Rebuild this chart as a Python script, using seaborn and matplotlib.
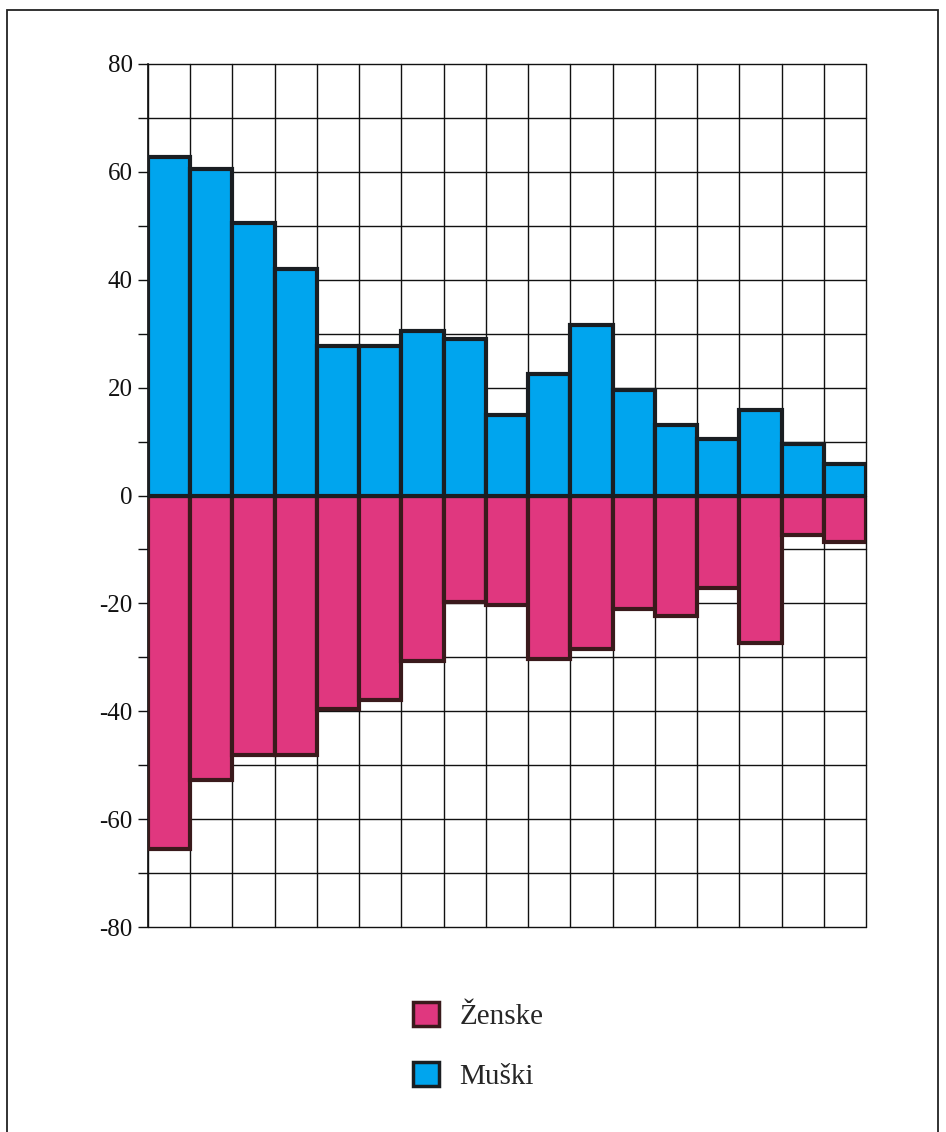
import matplotlib
matplotlib.use("Agg")
import matplotlib.pyplot as plt
import matplotlib.patches as mpatches
from matplotlib.ticker import MultipleLocator
import numpy as np
import pandas as pd
import seaborn as sns

# Age-group index (17 groups, unlabelled on the axis)
groups = [str(i) for i in range(1, 18)]
muski = [62.8, 60.5, 50.5, 42.0, 27.7, 27.7, 30.5, 29.0, 15.0, 22.5, 31.7, 19.5, 13.0, 10.4, 15.8, 9.6, 5.9]
zenske = [-65.6, -52.8, -48.2, -48.1, -39.5, -37.9, -30.7, -19.7, -20.3, -30.3, -28.5, -21.1, -22.4, -17.2, -27.4, -7.3, -8.7]
series_names = ["Ženske", "Muški"]
colors = {"Ženske": "#E0377F", "Muški": "#00A5EE"}
edge_colors = {"Ženske": "#3A1A1C", "Muški": "#1A1E22"}

df = pd.DataFrame({
    "grupa": groups * 2,
    "vrijednost": zenske + muski,
    "spol": ["Ženske"] * len(groups) + ["Muški"] * len(groups),
})

sns.set_theme(style="white")
plt.rcParams["font.family"] = ["Liberation Serif", "DejaVu Serif"]

W, H = 946, 1132
fig = plt.figure(figsize=(W / 100, H / 100), dpi=100)
ax = fig.add_axes([148 / W, 1 - 927 / H, (866 - 148) / W, (927 - 64) / H])

sns.barplot(
    data=df, x="grupa", y="vrijednost", hue="spol", hue_order=series_names,
    order=groups, palette=colors, dodge=False, width=1.0, ax=ax,
    legend=False, errorbar=None, saturation=1,
)
for bar in ax.patches:
    h = bar.get_height()
    key = "Muški" if h > 0 else "Ženske"
    bar.set_edgecolor(edge_colors[key])
    bar.set_linewidth(3.0)
    bar.set_zorder(3)

ax.set_xlim(-0.5, len(groups) - 0.5)
ax.set_ylim(-80, 80)
ax.yaxis.set_major_locator(MultipleLocator(20))
ax.yaxis.set_minor_locator(MultipleLocator(10))

# grid: horizontal every 10, vertical at each group boundary
for yv in np.arange(-80, 81, 10):
    ax.axhline(yv, color="#111111", lw=1.0, zorder=1, clip_on=False)
for xv in np.arange(-0.5, len(groups), 1.0):
    ax.axvline(xv, color="#111111", lw=1.0, zorder=1, clip_on=False)

ax.set_xticks([])
ax.set_xlabel("")
ax.set_ylabel("")
for side in ["top", "right", "bottom"]:
    ax.spines[side].set_visible(False)
ax.spines["left"].set_color("#111111")
ax.spines["left"].set_linewidth(1.2)
ax.tick_params(axis="y", which="both", direction="out", left=True, color="#111111", width=1.0)
ax.tick_params(axis="y", which="major", length=7, labelsize=18, pad=4, labelcolor="#111111")
ax.tick_params(axis="y", which="minor", length=7)
ax.set_yticklabels([f"{int(t)}" for t in ax.get_yticks()])

handles = [
    mpatches.Patch(facecolor=colors[n], edgecolor=edge_colors[n], linewidth=2.5, label=n)
    for n in series_names
]
fig.legend(
    handles=handles, loc="center", bbox_to_anchor=(478 / W, 1 - 1046 / H),
    frameon=False, fontsize=21, handlelength=0.9, handleheight=0.9,
    labelspacing=1.1, handletextpad=0.7,
)

# outer frame of the figure
frame = mpatches.Rectangle(
    (7 / W, -0.05), (938 - 7) / W, 1.05 - 10 / H,
    transform=fig.transFigure, fill=False, edgecolor="#222222", lw=1.3,
)
fig.patches.append(frame)

fig.savefig("out.png", dpi=100, facecolor="white")
